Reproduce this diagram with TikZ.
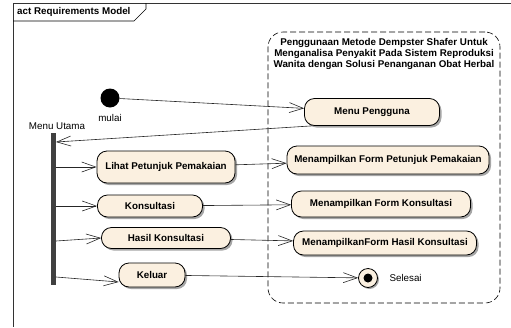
\documentclass[tikz,border=0pt]{standalone}
\usepackage{fontspec}
\setmainfont{Liberation Sans}
\usepackage{tikz}
\usetikzlibrary{positioning,shadows,arrows.meta}
\definecolor{actfill}{HTML}{FBF0E0}
\definecolor{barfill}{HTML}{404040}

\begin{document}
\begin{tikzpicture}[x=1pt,y=-1pt,
	font=\fontsize{9.8}{11}\selectfont,
	action/.style={rectangle,rounded corners=10pt,draw,thick,fill=actfill,font=\fontsize{9.8}{11}\selectfont\bfseries,
		inner xsep=1pt,inner ysep=2pt,drop shadow={shadow xshift=2pt,shadow yshift=-2pt,fill=black!35,opacity=1}},
	flow/.style={black!85,line width=0.6pt,-{Straight Barb[length=14pt,width=10pt]}},
	startnode/.style={circle,fill=black,minimum size=19pt,inner sep=0pt},
	endnode/.style={circle,draw,thick,fill=actfill,minimum size=19pt,inner sep=0pt,
		drop shadow={shadow xshift=1.5pt,shadow yshift=-1.5pt,fill=black!35,opacity=1}},
	caption/.style={font=\fontsize{9.8}{11}\selectfont}]
\useasboundingbox (0,0) rectangle (511,327);
\draw[line width=0.8pt,black!80] (511,3) -- (13,3) -- (13,327);
\draw[line width=0.6pt] (13,21) -- (134,21) -- (146,9) -- (146,3);
\node (frametitle) [anchor=west,inner sep=0pt,font=\fontsize{9.8}{11}\selectfont\bfseries] at (17,12) {act Requirements Model};

\node (sys) [draw,dash pattern=on 6pt off 3pt,line width=0.6pt,rounded corners=15pt,minimum width=232pt,minimum height=271pt] at (384,167.5) {};
\node (systitle) [below=6pt of sys.north,align=center,inner sep=0pt,font=\fontsize{9.8}{11}\selectfont\bfseries]
	{Penggunaan Metode Dempster Shafer Untuk\\Menganalisa Penyakit Pada Sistem Reproduksi\\Wanita dengan Solusi Penanganan Obat Herbal};

\node (start) [startnode] at (110,98) {};
\node (startlabel) [caption] at (110,118) {mulai};
\node (fork) [rectangle,fill=barfill,minimum width=5pt,minimum height=152pt,inner sep=0pt] at (53.5,209) {};
\node (forklabel) [caption] at (57,126) {Menu Utama};
\coordinate (menuport) at (56,142);
\coordinate (hasilport) at (56,241);
\coordinate (keluarport) at (56,277);

\node (menu) [action,minimum width=135pt,minimum height=27pt] at (372,112) {Menu Pengguna};
\node (lihat) [action,minimum width=138pt,minimum height=32pt] at (166,167) {Lihat Petunjuk Pemakaian};
\node (konsul) [action,minimum width=105pt,minimum height=22pt] at (150,206) {Konsultasi};
\node (hasil) [action,minimum width=129pt,minimum height=21pt] at (166,238) {Hasil Konsultasi};
\node (keluar) [action,minimum width=66pt,minimum height=24pt] at (152,275) {Keluar};

\node (fpetunjuk) [action,minimum width=202pt,minimum height=28pt] at (388,160) {Menampilkan Form Petunjuk Pemakaian};
\node (fkonsul) [action,minimum width=179pt,minimum height=26pt] at (381,204) {Menampilkan Form Konsultasi};
\node (fhasil) [action,minimum width=183pt,minimum height=24pt] at (385,243) {MenampilkanForm Hasil Konsultasi};
\node (final) [endnode] at (368,278) {};
\fill (final) circle (4.5pt);
\node (finallabel) [caption,anchor=west] at (386,278) {Selesai};

\path[flow]
(start) edge (menu)
(menu.193) edge (menuport)
(fork.east |- lihat) edge (lihat)
(fork.east |- konsul) edge (konsul)
(hasilport) edge (hasil.west)
(keluarport) edge ([yshift=-7pt]keluar.west)
(lihat) edge (fpetunjuk)
(konsul) edge (fkonsul)
(hasil) edge (fhasil)
(keluar) edge (final)
;
\end{tikzpicture}
\end{document}
